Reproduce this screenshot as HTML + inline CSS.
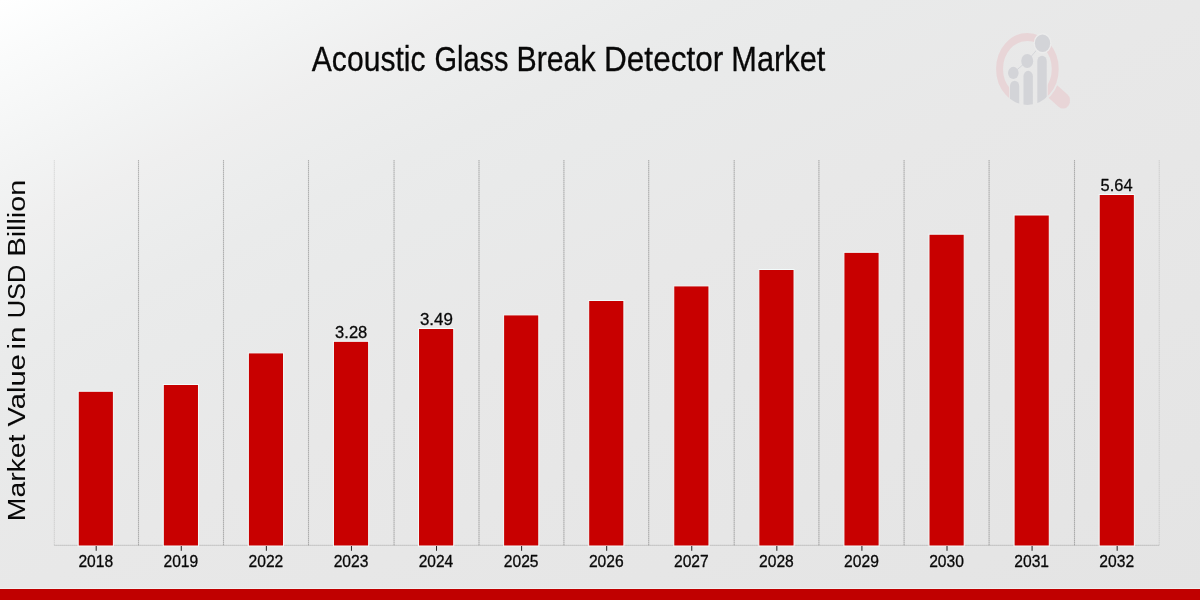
<!DOCTYPE html>
<html><head><meta charset="utf-8"><title>Acoustic Glass Break Detector Market</title>
<style>
html,body{margin:0;padding:0;}
body{width:1200px;height:600px;overflow:hidden;position:relative;background:#e8e8e8;font-family:"Liberation Sans",sans-serif;}
#bg{position:absolute;left:0;top:0;width:1200px;height:600px;background:linear-gradient(to bottom right, #ffffff 0%, rgb(250,251,251) 5%, rgb(246,247,247) 10%, rgb(242,243,243) 15%, rgb(239,239,239) 20%, rgb(236,237,237) 25%, rgb(234,235,235) 30%, rgb(233,234,234) 36%, rgb(232,232,232) 50%, rgb(230,230,230) 75%, rgb(228,228,228) 100%);}
svg{position:absolute;left:0;top:0;display:block;will-change:transform;}
text{font-family:"Liberation Sans",sans-serif;fill:#080808;stroke:#080808;stroke-linejoin:round;}
</style></head><body>
<div id="bg"></div>
<svg width="1200" height="600" viewBox="0 0 1200 600">

<g stroke="#000" stroke-width="1.15" fill="none">
<line x1="54.30" y1="160" x2="54.30" y2="545.5" stroke-opacity="0.05"/>
<line x1="54.30" y1="160" x2="54.30" y2="545.5" stroke-dasharray="1 1" stroke-opacity="0.05"/>
<line x1="138.50" y1="160" x2="138.50" y2="545.5" stroke-opacity="0.14"/>
<line x1="138.50" y1="160" x2="138.50" y2="545.5" stroke-dasharray="1 1" stroke-opacity="0.13"/>
<line x1="223.50" y1="160" x2="223.50" y2="545.5" stroke-opacity="0.14"/>
<line x1="223.50" y1="160" x2="223.50" y2="545.5" stroke-dasharray="1 1" stroke-opacity="0.13"/>
<line x1="308.50" y1="160" x2="308.50" y2="545.5" stroke-opacity="0.14"/>
<line x1="308.50" y1="160" x2="308.50" y2="545.5" stroke-dasharray="1 1" stroke-opacity="0.13"/>
<line x1="394.05" y1="160" x2="394.05" y2="545.5" stroke-opacity="0.14"/>
<line x1="394.05" y1="160" x2="394.05" y2="545.5" stroke-dasharray="1 1" stroke-opacity="0.13"/>
<line x1="479.00" y1="160" x2="479.00" y2="545.5" stroke-opacity="0.14"/>
<line x1="479.00" y1="160" x2="479.00" y2="545.5" stroke-dasharray="1 1" stroke-opacity="0.13"/>
<line x1="563.90" y1="160" x2="563.90" y2="545.5" stroke-opacity="0.14"/>
<line x1="563.90" y1="160" x2="563.90" y2="545.5" stroke-dasharray="1 1" stroke-opacity="0.13"/>
<line x1="648.70" y1="160" x2="648.70" y2="545.5" stroke-opacity="0.14"/>
<line x1="648.70" y1="160" x2="648.70" y2="545.5" stroke-dasharray="1 1" stroke-opacity="0.13"/>
<line x1="734.20" y1="160" x2="734.20" y2="545.5" stroke-opacity="0.14"/>
<line x1="734.20" y1="160" x2="734.20" y2="545.5" stroke-dasharray="1 1" stroke-opacity="0.13"/>
<line x1="818.90" y1="160" x2="818.90" y2="545.5" stroke-opacity="0.14"/>
<line x1="818.90" y1="160" x2="818.90" y2="545.5" stroke-dasharray="1 1" stroke-opacity="0.13"/>
<line x1="904.10" y1="160" x2="904.10" y2="545.5" stroke-opacity="0.14"/>
<line x1="904.10" y1="160" x2="904.10" y2="545.5" stroke-dasharray="1 1" stroke-opacity="0.13"/>
<line x1="989.10" y1="160" x2="989.10" y2="545.5" stroke-opacity="0.14"/>
<line x1="989.10" y1="160" x2="989.10" y2="545.5" stroke-dasharray="1 1" stroke-opacity="0.13"/>
<line x1="1074.50" y1="160" x2="1074.50" y2="545.5" stroke-opacity="0.14"/>
<line x1="1074.50" y1="160" x2="1074.50" y2="545.5" stroke-dasharray="1 1" stroke-opacity="0.13"/>
<line x1="1159.20" y1="160" x2="1159.20" y2="545.5" stroke-opacity="0.05"/>
<line x1="1159.20" y1="160" x2="1159.20" y2="545.5" stroke-dasharray="1 1" stroke-opacity="0.05"/>
</g>
<line x1="54.30" y1="545.3" x2="1159.20" y2="545.3" stroke="#000" stroke-opacity="0.09" stroke-width="1" stroke-dasharray="1 1"/>
<line x1="54.30" y1="545.3" x2="1159.20" y2="545.3" stroke="#000" stroke-opacity="0.12" stroke-width="1"/>
<g fill="#c80000" stroke="#f3fcfc" stroke-width="1">
<rect x="78.20" y="391.25" width="35.20" height="154.75"/>
<rect x="163.28" y="384.50" width="35.20" height="161.50"/>
<rect x="248.36" y="352.90" width="35.20" height="193.10"/>
<rect x="333.44" y="341.30" width="35.20" height="204.70"/>
<rect x="418.52" y="328.50" width="35.20" height="217.50"/>
<rect x="503.60" y="314.90" width="35.20" height="231.10"/>
<rect x="588.68" y="300.50" width="35.20" height="245.50"/>
<rect x="673.76" y="285.90" width="35.20" height="260.10"/>
<rect x="758.84" y="269.50" width="35.20" height="276.50"/>
<rect x="843.92" y="252.30" width="35.20" height="293.70"/>
<rect x="929.00" y="234.20" width="35.20" height="311.80"/>
<rect x="1014.08" y="215.00" width="35.20" height="331.00"/>
<rect x="1099.16" y="194.50" width="35.20" height="351.50"/>
</g>
<g stroke="#222" stroke-width="1">
<line x1="96.20" y1="546" x2="96.20" y2="550.8"/>
<line x1="181.28" y1="546" x2="181.28" y2="550.8"/>
<line x1="266.36" y1="546" x2="266.36" y2="550.8"/>
<line x1="351.44" y1="546" x2="351.44" y2="550.8"/>
<line x1="436.52" y1="546" x2="436.52" y2="550.8"/>
<line x1="521.60" y1="546" x2="521.60" y2="550.8"/>
<line x1="606.68" y1="546" x2="606.68" y2="550.8"/>
<line x1="691.76" y1="546" x2="691.76" y2="550.8"/>
<line x1="776.84" y1="546" x2="776.84" y2="550.8"/>
<line x1="861.92" y1="546" x2="861.92" y2="550.8"/>
<line x1="947.00" y1="546" x2="947.00" y2="550.8"/>
<line x1="1032.08" y1="546" x2="1032.08" y2="550.8"/>
<line x1="1117.16" y1="546" x2="1117.16" y2="550.8"/>
</g>
<g font-size="16.0" stroke-width="0.3">
<text x="78.40" y="567.2" textLength="34.72" lengthAdjust="spacingAndGlyphs">2018</text>
<text x="163.48" y="567.2" textLength="34.72" lengthAdjust="spacingAndGlyphs">2019</text>
<text x="248.56" y="567.2" textLength="34.72" lengthAdjust="spacingAndGlyphs">2022</text>
<text x="333.64" y="567.2" textLength="34.72" lengthAdjust="spacingAndGlyphs">2023</text>
<text x="418.72" y="567.2" textLength="34.45" lengthAdjust="spacingAndGlyphs">2024</text>
<text x="503.80" y="567.2" textLength="34.72" lengthAdjust="spacingAndGlyphs">2025</text>
<text x="588.88" y="567.2" textLength="34.72" lengthAdjust="spacingAndGlyphs">2026</text>
<text x="673.96" y="567.2" textLength="34.72" lengthAdjust="spacingAndGlyphs">2027</text>
<text x="759.04" y="567.2" textLength="34.72" lengthAdjust="spacingAndGlyphs">2028</text>
<text x="844.12" y="567.2" textLength="34.72" lengthAdjust="spacingAndGlyphs">2029</text>
<text x="929.20" y="567.2" textLength="34.72" lengthAdjust="spacingAndGlyphs">2030</text>
<text x="1014.28" y="567.2" textLength="34.72" lengthAdjust="spacingAndGlyphs">2031</text>
<text x="1099.36" y="567.2" textLength="34.72" lengthAdjust="spacingAndGlyphs">2032</text>
</g>
<g font-size="17.2" stroke-width="0.3">
<text x="335.10" y="337.60" textLength="32.22" lengthAdjust="spacingAndGlyphs">3.28</text>
<text x="419.90" y="325.00" textLength="32.93" lengthAdjust="spacingAndGlyphs">3.49</text>
<text x="1100.60" y="190.80" textLength="31.95" lengthAdjust="spacingAndGlyphs">5.64</text>
</g>
<g font-size="34.2" stroke-width="0.3">
<text x="311.80" y="70.5" textLength="113.76" lengthAdjust="spacingAndGlyphs">Acoustic</text>
<text x="434.50" y="70.5" textLength="74.09" lengthAdjust="spacingAndGlyphs">Glass</text>
<text x="516.50" y="70.5" textLength="79.08" lengthAdjust="spacingAndGlyphs">Break</text>
<text x="604.00" y="70.5" textLength="119.33" lengthAdjust="spacingAndGlyphs">Detector</text>
<text x="731.30" y="70.5" textLength="93.98" lengthAdjust="spacingAndGlyphs">Market</text>
</g>
<g font-size="24.8" stroke-width="0.05" transform="translate(25.4 519) rotate(-90)">
<text x="-2.25" y="0" textLength="86.72" lengthAdjust="spacingAndGlyphs">Market</text>
<text x="92.50" y="0" textLength="72.28" lengthAdjust="spacingAndGlyphs">Value</text>
<text x="169.50" y="0" textLength="22.81" lengthAdjust="spacingAndGlyphs">in</text>
<text x="200.80" y="0" textLength="53.53" lengthAdjust="spacingAndGlyphs">USD</text>
<text x="262.55" y="0" textLength="76.63" lengthAdjust="spacingAndGlyphs">Billion</text>
</g>
<defs>
<clipPath id="cRing"><path clip-rule="evenodd" d="M-60 -60H80V80H-60Z M-20.9 5H23.4V45H-20.9Z"/></clipPath>
<clipPath id="cHandle"><path clip-rule="evenodd" d="M-60 -60H90V90H-60Z M38 0A38 38 0 1 0 -38 0A38 38 0 1 0 38 0Z"/></clipPath>
<clipPath id="cDisc"><circle cx="0" cy="0" r="36"/></clipPath>
</defs>
<g transform="translate(1027.4 68.9) scale(0.87 1)">
<g clip-path="url(#cRing)"><circle cx="0" cy="0" r="32" fill="none" stroke="#e8d5d7" stroke-width="8"/></g>
<g clip-path="url(#cHandle)"><line x1="23.74" y1="18.35" x2="40.99" y2="31.68" stroke="#e8d5d7" stroke-width="16" stroke-linecap="round"/></g>
<g clip-path="url(#cDisc)" fill="#d3d4d8">
<rect x="-20" y="11.9" width="10.6" height="40" rx="5.3"/>
<rect x="-4.5" y="1.9" width="10.8" height="50" rx="5.4"/>
<rect x="11.4" y="-13.2" width="10.8" height="65" rx="5.4"/>
</g>
<polyline points="-16.2,4.05 -0.2,-7.9 17.4,-25.7" fill="none" stroke="#d3d4d8" stroke-width="1.0"/>
<circle cx="17.4" cy="-25.7" r="10.3" fill="#ececec"/>
<g fill="#d3d4d8"><circle cx="-16.2" cy="4.05" r="6.1"/><circle cx="-0.2" cy="-7.9" r="6.9"/><circle cx="17.4" cy="-25.7" r="8.8"/></g>
</g>
<rect x="0" y="588.3" width="1200" height="1" fill="#ffffff" fill-opacity="0.55"/>
<rect x="0" y="589" width="1200" height="11" fill="#c00000"/>
</svg></body></html>
